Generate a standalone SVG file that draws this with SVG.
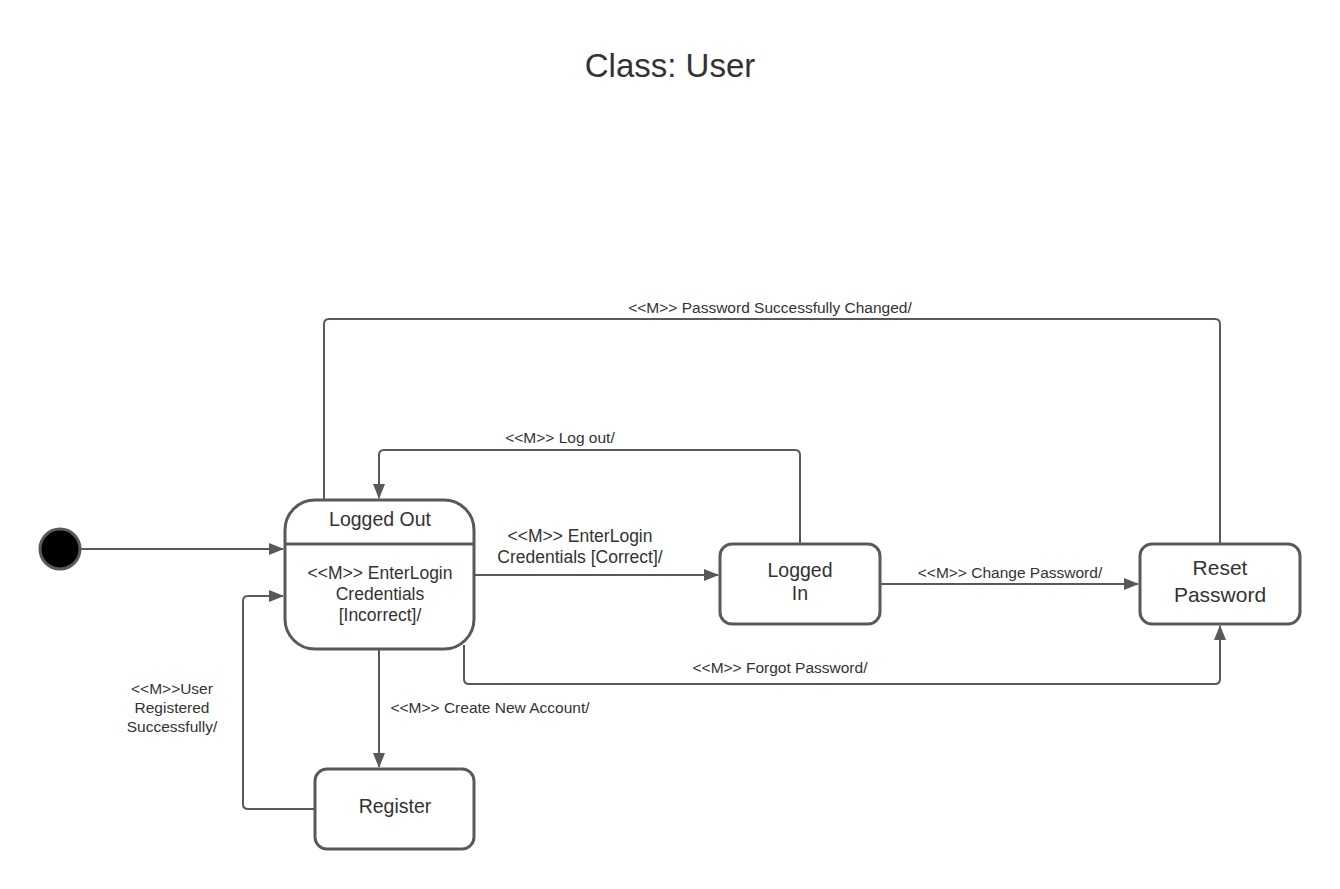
<svg xmlns="http://www.w3.org/2000/svg" width="1340" height="889" viewBox="0 0 1340 889">
<defs>
<marker id="arr" viewBox="0 0 15 12" refX="14" refY="6" markerWidth="15" markerHeight="12" markerUnits="userSpaceOnUse" orient="auto">
<path d="M0,0 L15,6 L0,12 Z" fill="#595959"/>
</marker>
<style>
.node{fill:#ffffff;stroke:#595959;stroke-width:3}
.conn{fill:none;stroke:#595959;stroke-width:2;stroke-linejoin:round}
.t{font-family:"Liberation Sans",Arial,sans-serif;fill:#333333;text-anchor:middle}
.nt{font-size:19.5px}
.bt{font-size:17.5px}
.lt{font-size:15.5px}
</style>
</defs>
<rect width="1340" height="889" fill="#ffffff"/>
<text class="t" x="670" y="77" font-size="33">Class: User</text>

<g id="connectors">
<path class="conn" d="M80,549 L283,549" marker-end="url(#arr)"/>
<path class="conn" d="M474,575 L718,575" marker-end="url(#arr)"/>
<path class="conn" d="M880,584 L1138,584" marker-end="url(#arr)"/>
<path class="conn" d="M800,544 L800,455 Q800,450 795,450 L384,450 Q379,450 379,455 L379,498" marker-end="url(#arr)"/>
<path class="conn" d="M324,500 L324,324 Q324,319 329,319 L1215,319 Q1220,319 1220,324 L1220,544"/>
<path class="conn" d="M464,645 L464,679 Q464,684 469,684 L1215,684 Q1220,684 1220,679 L1220,626" marker-end="url(#arr)"/>
<path class="conn" d="M379,650 L379,767" marker-end="url(#arr)"/>
<path class="conn" d="M315,809 L248,809 Q243,809 243,804 L243,601 Q243,596 248,596 L283,596" marker-end="url(#arr)"/>
<text class="t lt" x="770" y="313">&lt;&lt;M&gt;&gt; Password Successfully Changed/</text>
<text class="t lt" x="560" y="443">&lt;&lt;M&gt;&gt; Log out/</text>
<text class="t bt" x="580" y="542">&lt;&lt;M&gt;&gt; EnterLogin</text>
<text class="t bt" x="580" y="563">Credentials [Correct]/</text>
<text class="t lt" x="1010" y="578">&lt;&lt;M&gt;&gt; Change Password/</text>
<text class="t lt" x="780" y="673">&lt;&lt;M&gt;&gt; Forgot Password/</text>
<text class="t lt" x="490" y="713">&lt;&lt;M&gt;&gt; Create New Account/</text>
<text class="t lt" x="172" y="694">&lt;&lt;M&gt;&gt;User</text>
<text class="t lt" x="172" y="713">Registered</text>
<text class="t lt" x="172" y="732">Successfully/</text>
</g>

<g id="initial">
<circle cx="60" cy="549" r="20" fill="#000000" stroke="#595959" stroke-width="3"/>
</g>

<g id="logged-out">
<rect class="node" x="285" y="500" width="189" height="149" rx="30" ry="30"/>
<line x1="285" y1="544" x2="474" y2="544" stroke="#595959" stroke-width="3"/>
<text class="t nt" x="380" y="526">Logged Out</text>
<text class="t bt" x="380" y="579">&lt;&lt;M&gt;&gt; EnterLogin</text>
<text class="t bt" x="380" y="600">Credentials</text>
<text class="t bt" x="380" y="621">[Incorrect]/</text>
</g>

<g id="logged-in">
<rect class="node" x="720" y="544" width="160" height="80" rx="12" ry="12"/>
<text class="t nt" x="800" y="577">Logged</text>
<text class="t nt" x="800" y="600">In</text>
</g>

<g id="reset-password">
<rect class="node" x="1140" y="544" width="160" height="80" rx="12" ry="12"/>
<text class="t" font-size="21" x="1220" y="575">Reset</text>
<text class="t" font-size="21" x="1220" y="602">Password</text>
</g>

<g id="register">
<rect class="node" x="315" y="769" width="159" height="80" rx="12" ry="12"/>
<text class="t nt" x="395" y="813">Register</text>
</g>
</svg>
